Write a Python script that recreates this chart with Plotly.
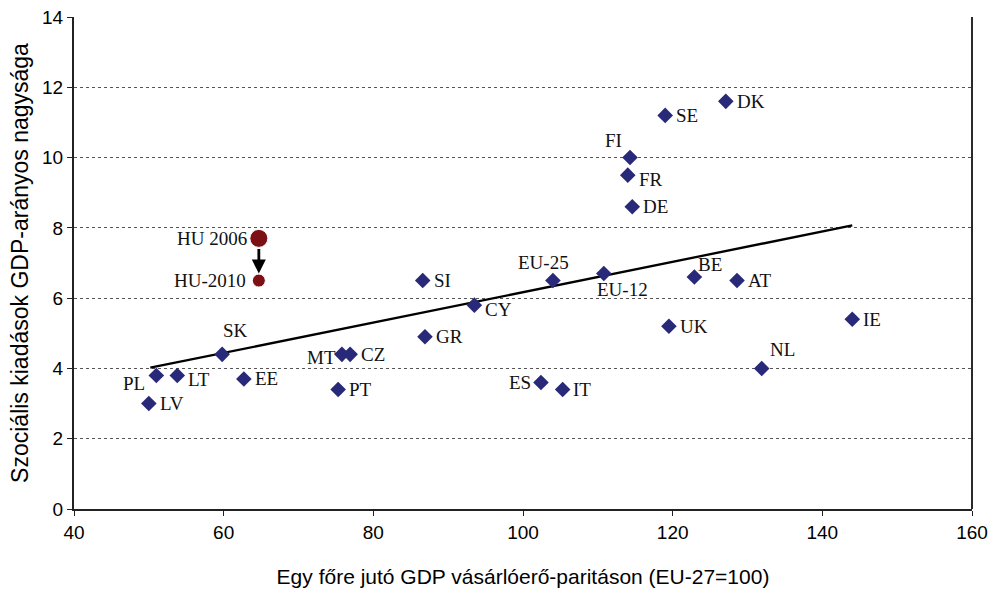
import plotly.graph_objects as go

# ---- data ----
countries = ["DK", "SE", "FI", "FR", "DE", "EU-25", "EU-12", "BE", "AT", "UK", "IE", "NL",
             "SI", "CY", "GR", "ES", "IT", "MT", "CZ", "PT", "SK", "EE", "PL", "LT", "LV"]
gdp_ppp = [127.1, 119.0, 114.3, 114.0, 114.6, 104.0, 110.8, 122.9, 128.6, 119.5, 144.0, 131.9,
           86.6, 93.5, 86.9, 102.4, 105.3, 75.8, 76.9, 75.3, 59.8, 62.7, 51.0, 53.8, 50.0]
social_exp = [11.6, 11.2, 10.0, 9.5, 8.6, 6.5, 6.7, 6.6, 6.5, 5.2, 5.4, 4.0,
              6.5, 5.8, 4.9, 3.6, 3.4, 4.4, 4.4, 3.4, 4.4, 3.7, 3.8, 3.8, 3.0]

hu_labels = ["HU 2006", "HU-2010"]
hu_gdp = [64.7, 64.7]
hu_exp = [7.7, 6.5]

trend_x = [50.2, 144.0]
trend_y = [4.02, 8.07]

x_ticks = [40, 60, 80, 100, 120, 140, 160]
y_ticks = [0, 2, 4, 6, 8, 10, 12, 14]

x_title = "Egy főre jutó GDP vásárlóerő-paritáson (EU-27=100)"
y_title = "Szociális kiadások GDP-arányos nagysága"

# label placement (xanchor, yanchor, xshift, yshift)
label_pos = {
    "DK": ("left", "middle", 9, 0), "SE": ("left", "middle", 9, 0),
    "FI": ("right", "bottom", -6, 5), "FR": ("left", "middle", 9, -4),
    "DE": ("left", "middle", 9, 0), "EU-25": ("center", "bottom", -9, 6),
    "EU-12": ("center", "top", 19, -3), "BE": ("left", "bottom", 2, 0),
    "AT": ("left", "middle", 9, 0), "UK": ("left", "middle", 9, 0),
    "IE": ("left", "middle", 9, 0), "NL": ("left", "bottom", 6, 6),
    "SI": ("left", "middle", 9, 0), "CY": ("left", "middle", 9, -4),
    "GR": ("left", "middle", 9, 0), "ES": ("right", "middle", -8, 0),
    "IT": ("left", "middle", 8, 0), "MT": ("right", "middle", -4, -3),
    "CZ": ("left", "middle", 9, 0), "PT": ("left", "middle", 9, 0),
    "SK": ("center", "bottom", 13, 11), "EE": ("left", "middle", 9, 0),
    "PL": ("right", "middle", -9, -8), "LT": ("left", "middle", 9, -4),
    "LV": ("left", "middle", 9, 0),
}

fig = go.Figure()

fig.add_trace(go.Scatter(
    x=trend_x, y=trend_y, mode="lines",
    line=dict(color="black", width=2.3), showlegend=False, hoverinfo="skip"))

fig.add_trace(go.Scatter(
    x=gdp_ppp, y=social_exp, mode="markers",
    marker=dict(symbol="diamond", size=12, color="#29297A", opacity=1),
    text=countries, showlegend=False))

fig.add_trace(go.Scatter(
    x=hu_gdp, y=hu_exp, mode="markers",
    marker=dict(symbol="circle", size=[18, 13], color="#7C1014", opacity=1),
    text=hu_labels, showlegend=False))

label_font = dict(family="Liberation Serif, Times New Roman, serif", size=19, color="#111111")

for name, xv, yv in zip(countries, gdp_ppp, social_exp):
    xa, ya, xs, ys = label_pos[name]
    fig.add_annotation(x=xv, y=yv, text=name, showarrow=False, xanchor=xa, yanchor=ya,
                       xshift=xs, yshift=ys, font=label_font)

for (name, xv, yv, xs) in zip(hu_labels, hu_gdp, hu_exp, [-10, -11]):
    fig.add_annotation(x=xv, y=yv, text=name, showarrow=False, xanchor="right", yanchor="middle",
                       xshift=xs, yshift=0, font=label_font)

# arrow from HU 2006 to HU-2010
fig.add_annotation(x=hu_gdp[1], y=hu_exp[1], ax=hu_gdp[0], ay=hu_exp[0],
                   xref="x", yref="y", axref="x", ayref="y", text="",
                   showarrow=True, arrowhead=2, arrowsize=1.0, arrowwidth=2.8, arrowcolor="black",
                   standoff=7, startstandoff=9)

# right border
fig.add_shape(type="line", xref="paper", yref="paper", x0=1, x1=1, y0=0, y1=1,
              line=dict(color="#2a2a2a", width=2))

fig.update_layout(
    width=997, height=599,
    margin=dict(l=74, r=25, t=17, b=90, autoexpand=False),
    paper_bgcolor="white", plot_bgcolor="white",
    font=dict(family="Liberation Sans, Arial, sans-serif", color="black"),
    xaxis=dict(range=[40, 160], tickvals=x_ticks, ticks="outside", ticklen=5, tickwidth=1,
               tickcolor="#222", showline=True, linecolor="#222", linewidth=2,
               showgrid=False, zeroline=False, automargin=False, ticklabeloverflow="allow",
               tickfont=dict(size=19, family="Liberation Sans, Arial, sans-serif"),
               title=dict(text=x_title, font=dict(size=21), standoff=28)),
    yaxis=dict(range=[0, 14], tickvals=y_ticks, ticks="outside", ticklen=5, tickwidth=1,
               tickcolor="#222", showline=True, linecolor="#222", linewidth=2,
               showgrid=True, gridcolor="#555", griddash="dot", gridwidth=1,
               zeroline=False, automargin=False,
               tickfont=dict(size=19, family="Liberation Sans, Arial, sans-serif"),
               title=dict(text=y_title, font=dict(size=23), standoff=7)),
)

fig.write_html("out.html", config={"displayModeBar": False},
               post_script="document.body.style.margin='0';document.body.style.overflow='hidden';")
